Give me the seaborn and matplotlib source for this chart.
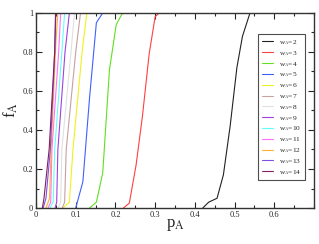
import numpy as np
import pandas as pd
import matplotlib
matplotlib.use("Agg")
import matplotlib.pyplot as plt
import seaborn as sns
from matplotlib.ticker import MultipleLocator

# curves f_A(p_A) for each w_A
w2_p = [0.42, 0.435, 0.456, 0.472, 0.489, 0.506, 0.52, 0.539]
w2_f = [0.0, 0.03, 0.05, 0.17, 0.42, 0.72, 0.88, 1.0]
w3_p = [0.22, 0.235, 0.252, 0.268, 0.285, 0.30, 0.31]
w3_f = [0.0, 0.025, 0.22, 0.47, 0.79, 0.98, 1.0]
w4_p = [0.135, 0.152, 0.168, 0.185, 0.202, 0.218]
w4_f = [0.0, 0.03, 0.18, 0.71, 0.94, 1.0]
w5_p = [0.10, 0.118, 0.135, 0.152, 0.168]
w5_f = [0.0, 0.135, 0.57, 0.95, 1.0]
w6_p = [0.068, 0.084, 0.093, 0.116, 0.128]
w6_f = [0.0, 0.03, 0.3, 0.8, 1.0]
w7_p = [0.066, 0.072, 0.076, 0.10, 0.112]
w7_f = [0.0, 0.03, 0.3, 0.8, 1.0]
w8_p = [0.056, 0.062, 0.065, 0.088, 0.097]
w8_f = [0.0, 0.03, 0.3, 0.8, 1.0]
w9_p = [0.048, 0.052, 0.055, 0.073, 0.084]
w9_f = [0.0, 0.03, 0.3, 0.8, 1.0]
w10_p = [0.035, 0.043, 0.047, 0.065, 0.072]
w10_f = [0.0, 0.03, 0.3, 0.8, 1.0]
w11_p = [0.03, 0.037, 0.04, 0.057, 0.062]
w11_f = [0.0, 0.03, 0.3, 0.8, 1.0]
w12_p = [0.025, 0.034, 0.038, 0.05, 0.055]
w12_f = [0.0, 0.05, 0.3, 0.85, 1.0]
w13_p = [0.018, 0.025, 0.036, 0.047, 0.05]
w13_f = [0.0, 0.05, 0.3, 0.8, 1.0]
w14_p = [0.016, 0.02, 0.033, 0.047, 0.049]
w14_f = [0.0, 0.05, 0.3, 0.8, 1.0]

w_values = list(range(2, 15))
curves_p = [w2_p, w3_p, w4_p, w5_p, w6_p, w7_p, w8_p, w9_p, w10_p, w11_p, w12_p, w13_p, w14_p]
curves_f = [w2_f, w3_f, w4_f, w5_f, w6_f, w7_f, w8_f, w9_f, w10_f, w11_f, w12_f, w13_f, w14_f]

colors = ["#222222", "#ff4040", "#60e020", "#4060ff", "#f0f020", "#c8a0a0",
          "#e0e0e0", "#a040e0", "#60ffff", "#ff70ff", "#ffb030", "#8050e0", "#802060"]

rows = []
for w, ps, fs in zip(w_values, curves_p, curves_f):
    for p, f in zip(ps, fs):
        rows.append({"w": "w$_A$=%d" % w, "p": p, "f": f})
df = pd.DataFrame(rows)

sns.set_style("ticks")
plt.rcParams["font.family"] = ["Liberation Serif", "DejaVu Serif"]
plt.rcParams["mathtext.fontset"] = "stix"

fig = plt.figure(figsize=(3.19, 2.44), dpi=100)
ax = fig.add_axes([0.113, 0.1475, 0.871, 0.7995])

labels = ["w$_A$=%d" % w for w in w_values]
sns.lineplot(data=df, x="p", y="f", hue="w", hue_order=labels,
             palette=dict(zip(labels, colors)), sort=False, estimator=None,
             units="w", linewidth=0.8, ax=ax)

ax.set_xlim(0, 0.7)
ax.set_ylim(0, 1)
ax.set_xticks([0, 0.1, 0.2, 0.3, 0.4, 0.5, 0.6])
ax.set_xticklabels(["0", "0.1", "0.2", "0.3", "0.4", "0.5", "0.6"])
ax.set_yticks([0, 0.2, 0.4, 0.6, 0.8, 1.0])
ax.set_yticklabels(["0", "0.2", "0.4", "0.6", "0.8", "1"])
ax.xaxis.set_minor_locator(MultipleLocator(0.05))
ax.yaxis.set_minor_locator(MultipleLocator(0.1))
ax.tick_params(which="both", direction="in", top=True, right=True, labelsize=6, width=0.8)
ax.tick_params(which="major", length=4, pad=2)
ax.tick_params(which="minor", length=2)
for s in ax.spines.values():
    s.set_linewidth(1.0)
    s.set_color("#333333")

ax.set_xlabel("p$_\\mathrm{A}$", fontsize=12, labelpad=-1)
ax.set_ylabel("f$_\\mathrm{A}$", fontsize=12, labelpad=2)

leg = ax.legend(loc="upper left", bbox_to_anchor=(0.80, 0.89), fontsize=5.3,
                frameon=True, fancybox=False, edgecolor="#222222",
                handlelength=1.5, labelspacing=0.26, borderpad=0.5,
                handletextpad=0.8, borderaxespad=0)
leg.get_frame().set_linewidth(0.8)

fig.savefig("out.png", dpi=100)
